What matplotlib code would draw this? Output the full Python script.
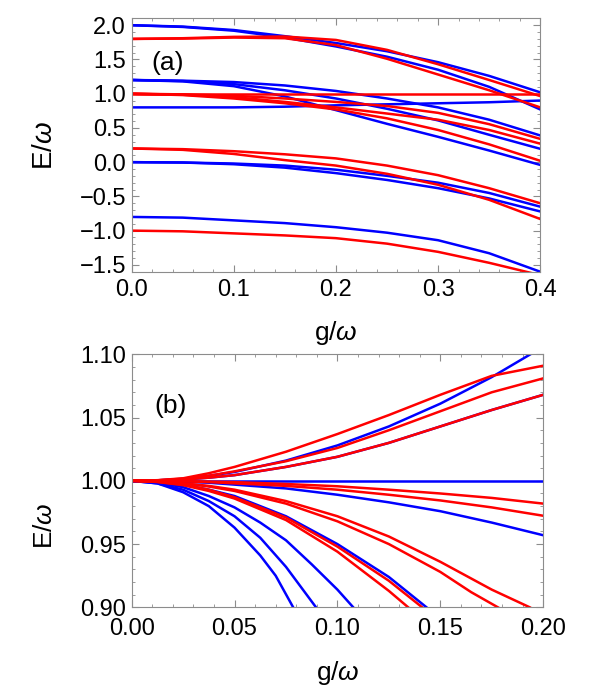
import matplotlib
matplotlib.use('Agg')
import matplotlib.pyplot as plt
from matplotlib.ticker import MultipleLocator

plt.rcParams['font.family'] = ['Liberation Sans', 'DejaVu Sans']
plt.rcParams['mathtext.fontset'] = 'custom'
plt.rcParams['mathtext.rm'] = 'Liberation Sans'
plt.rcParams['mathtext.it'] = 'Liberation Sans:italic'
plt.rcParams['axes.unicode_minus'] = True

# ---- panel (a): levels, g = 0 .. 0.4 ----
g_a = [0.0, 0.05, 0.10, 0.15, 0.20, 0.25, 0.30, 0.35, 0.40]

blue_a = [
    [2.0, 1.98, 1.93, 1.84, 1.74, 1.62, 1.46, 1.26, 1.02],
    [2.0, 1.975, 1.92, 1.82, 1.69, 1.54, 1.35, 1.10, 0.77],
    [1.2, 1.19, 1.17, 1.12, 1.04, 0.93, 0.80, 0.62, 0.39],
    [1.2, 1.185, 1.14, 1.05, 0.93, 0.78, 0.61, 0.40, 0.195],
    [1.2, 1.18, 1.11, 0.96, 0.76, 0.56, 0.37, 0.17, -0.04],
    [0.8, 0.80, 0.80, 0.81, 0.83, 0.845, 0.86, 0.875, 0.90],
    [0.0, -0.005, -0.02, -0.05, -0.11, -0.20, -0.30, -0.45, -0.65],
    [0.0, -0.005, -0.03, -0.08, -0.16, -0.26, -0.38, -0.53, -0.72],
    [-0.8, -0.81, -0.85, -0.89, -0.95, -1.03, -1.14, -1.33, -1.60],
]
red_a = [
    [1.8, 1.81, 1.83, 1.835, 1.785, 1.64, 1.43, 1.20, 0.965],
    [1.8, 1.805, 1.82, 1.81, 1.71, 1.51, 1.28, 1.05, 0.80],
    [1.0, 1.0, 1.0, 1.0, 1.0, 1.0, 1.0, 1.0, 1.0],
    [1.0, 0.99, 0.97, 0.93, 0.88, 0.82, 0.72, 0.555, 0.34],
    [1.0, 0.985, 0.95, 0.88, 0.80, 0.71, 0.62, 0.47, 0.27],
    [1.0, 0.98, 0.93, 0.86, 0.77, 0.64, 0.47, 0.26, 0.02],
    [0.2, 0.19, 0.16, 0.115, 0.055, -0.05, -0.19, -0.38, -0.60],
    [0.2, 0.18, 0.12, 0.03, -0.05, -0.17, -0.33, -0.55, -0.83],
    [-1.0, -1.01, -1.04, -1.07, -1.11, -1.19, -1.31, -1.47, -1.65],
]

# ---- panel (b): zoom near E = 1, g = 0 .. 0.2 ----
g_b = [0.0, 0.0125, 0.025, 0.0375, 0.05, 0.075, 0.10, 0.125, 0.15, 0.175, 0.20]

blue_b = [
    (g_b, [1.0, 1.0004, 1.0015, 1.004, 1.007, 1.016, 1.028, 1.043, 1.061, 1.082, 1.106]),
    (g_b, [1.0, 1.0002, 1.001, 1.0025, 1.0045, 1.011, 1.019, 1.030, 1.043, 1.056, 1.068]),
    (g_b, [1.0] * 11),
    (g_b, [1.0, 0.9998, 0.9993, 0.9985, 0.997, 0.994, 0.989, 0.983, 0.976, 0.967, 0.957]),
    ([0.0, 0.0125, 0.025, 0.0375, 0.05, 0.075, 0.10, 0.125, 0.1433],
     [1.0, 0.9993, 0.997, 0.993, 0.988, 0.972, 0.950, 0.924, 0.90]),
    ([0.0, 0.0125, 0.025, 0.0375, 0.05, 0.0625, 0.075, 0.0875, 0.10, 0.1077],
     [1.0, 0.9987, 0.995, 0.988, 0.979, 0.967, 0.953, 0.934, 0.914, 0.90]),
    ([0.0, 0.0125, 0.025, 0.0375, 0.05, 0.0625, 0.075, 0.0896],
     [1.0, 0.998, 0.993, 0.984, 0.972, 0.955, 0.932, 0.90]),
    ([0.0, 0.0125, 0.025, 0.0375, 0.05, 0.0625, 0.07, 0.0785],
     [1.0, 0.998, 0.991, 0.980, 0.963, 0.941, 0.925, 0.90]),
]
red_b = [
    (g_b, [1.0, 1.0005, 1.002, 1.006, 1.011, 1.023, 1.037, 1.052, 1.068, 1.083, 1.091]),
    (g_b, [1.0, 1.0004, 1.0017, 1.004, 1.0075, 1.0155, 1.026, 1.040, 1.055, 1.070, 1.081]),
    (g_b, [1.0, 1.0002, 1.001, 1.0025, 1.0045, 1.011, 1.019, 1.030, 1.043, 1.056, 1.068]),
    (g_b, [1.0, 1.0, 0.9997, 0.9994, 0.999, 0.9975, 0.9957, 0.993, 0.990, 0.9865, 0.982]),
    (g_b, [1.0, 0.9999, 0.9996, 0.999, 0.998, 0.996, 0.993, 0.989, 0.9845, 0.979, 0.9724]),
    ([0.0, 0.0125, 0.025, 0.0375, 0.05, 0.075, 0.10, 0.125, 0.15, 0.175, 0.1935],
     [1.0, 0.9996, 0.998, 0.996, 0.993, 0.984, 0.972, 0.956, 0.936, 0.914, 0.90]),
    ([0.0, 0.0125, 0.025, 0.0375, 0.05, 0.075, 0.10, 0.125, 0.15, 0.165, 0.178],
     [1.0, 0.9995, 0.998, 0.9955, 0.992, 0.982, 0.968, 0.950, 0.928, 0.912, 0.90]),
    ([0.0, 0.0125, 0.025, 0.0375, 0.05, 0.075, 0.10, 0.125, 0.1412],
     [1.0, 0.9992, 0.997, 0.993, 0.987, 0.971, 0.948, 0.921, 0.90]),
    ([0.0, 0.0125, 0.025, 0.0375, 0.05, 0.075, 0.10, 0.125, 0.1344],
     [1.0, 0.9991, 0.9966, 0.992, 0.986, 0.969, 0.944, 0.913, 0.90]),
]

xticks_a = [0.0, 0.1, 0.2, 0.3, 0.4]
yticks_a = [-1.5, -1.0, -0.5, 0.0, 0.5, 1.0, 1.5, 2.0]
xticks_b = [0.00, 0.05, 0.10, 0.15, 0.20]
yticks_b = [0.90, 0.95, 1.00, 1.05, 1.10]

BLUE = '#0000ff'
RED = '#ff0000'
FRAME = '#8c8c8c'
LW = 1.8


def frame_style(ax, xpad):
    for s in ax.spines.values():
        s.set_color(FRAME)
        s.set_linewidth(0.8)
    ax.tick_params(which='both', direction='in', top=True, right=True,
                   color=FRAME, labelcolor='black', labelsize=17)
    ax.tick_params(which='major', length=5, width=0.8)
    ax.tick_params(which='minor', length=2.5, width=0.6)
    ax.tick_params(axis='x', pad=xpad)
    ax.tick_params(axis='y', pad=4)


fig = plt.figure(figsize=(5.93, 6.96), dpi=100)
axa = fig.add_axes([0.222, 0.6096, 0.689, 0.364])
axb = fig.add_axes([0.222, 0.1274, 0.694, 0.3635])

# (a)
for e in blue_a:
    axa.plot(g_a, e, color=BLUE, lw=LW)
for e in red_a:
    axa.plot(g_a, e, color=RED, lw=LW)
axa.set_xlim(0, 0.4)
axa.set_ylim(-1.6, 2.1)
axa.set_xticks(xticks_a)
axa.set_xticklabels(['%.1f' % t for t in xticks_a])
axa.set_yticks(yticks_a)
axa.set_yticklabels([('%.1f' % t).replace('-', '\u2212') for t in yticks_a])
axa.xaxis.set_minor_locator(MultipleLocator(0.02))
axa.yaxis.set_minor_locator(MultipleLocator(0.1))
frame_style(axa, 5)
axa.set_xlabel(r'g/$\omega$', fontsize=19, va='center')
axa.xaxis.set_label_coords(0.5, -0.242)
axa.set_ylabel(r'E/$\omega$', fontsize=20, va='center')
axa.yaxis.set_label_coords(-0.212, 0.5)
axa.text(0.088, 0.824, '(a)', transform=axa.transAxes, fontsize=19,
         ha='center', va='center')

# (b)
for gg, e in blue_b:
    axb.plot(gg, e, color=BLUE, lw=LW)
for gg, e in red_b:
    axb.plot(gg, e, color=RED, lw=LW)
axb.set_xlim(0, 0.2)
axb.set_ylim(0.9, 1.1)
axb.set_xticks(xticks_b)
axb.set_xticklabels(['%.2f' % t for t in xticks_b])
axb.set_yticks(yticks_b)
axb.set_yticklabels(['%.2f' % t for t in yticks_b])
axb.xaxis.set_minor_locator(MultipleLocator(0.01))
axb.yaxis.set_minor_locator(MultipleLocator(0.01))
frame_style(axb, 8)
axb.set_xlabel(r'g/$\omega$', fontsize=19, va='center')
axb.xaxis.set_label_coords(0.5, -0.26)
axb.set_ylabel(r'E/$\omega$', fontsize=19, va='center')
axb.yaxis.set_label_coords(-0.211, 0.321)
axb.text(0.0955, 0.796, '(b)', transform=axb.transAxes, fontsize=19,
         ha='center', va='center')

fig.savefig('out.png', dpi=100)
